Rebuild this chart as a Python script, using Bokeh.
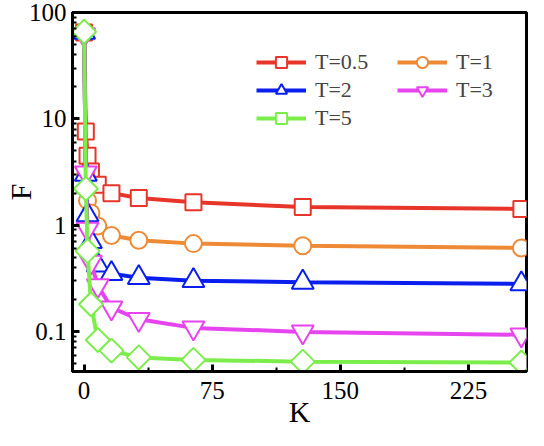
import numpy as np
from bokeh.plotting import figure
from bokeh.models import Range1d, FixedTicker, Legend, LegendItem
from bokeh.embed import file_html
from bokeh.resources import INLINE

# ---- data ----
K = [0, 1, 2, 4, 8, 16, 32, 64, 128, 256]
F_T05 = [65, 7.6, 4.5, 3.2, 2.4, 2.0, 1.8, 1.64, 1.48, 1.42]
F_T1 = [65, 3.0, 1.7, 1.3, 0.98, 0.80, 0.72, 0.67, 0.64, 0.61]
F_T2 = [65, 3.0, 1.25, 0.70, 0.42, 0.35, 0.32, 0.30, 0.29, 0.28]
F_T3 = [62, 3.1, 0.92, 0.45, 0.27, 0.167, 0.13, 0.108, 0.099, 0.093]
F_T5 = [66, 2.2, 0.57, 0.18, 0.083, 0.066, 0.057, 0.054, 0.052, 0.051]
series_labels = ["T=0.5", "T=1", "T=2", "T=3", "T=5"]

x_ticks = [0, 75, 150, 225]
x_minor_ticks = [37.5, 112.5, 187.5]
y_ticks = [0.1, 1, 10, 100]
y_tick_labels = ["0.1", "1", "10", "100"]
x_title = "K"
y_title = "F"

FONT = "'Liberation Serif', 'Times New Roman', serif"

p = figure(width=528, height=430, y_axis_type="log",
           x_range=Range1d(-6.8, 259), y_range=Range1d(0.042, 100),
           output_backend="svg", toolbar_location=None,
           min_border_left=66, min_border_right=2,
           min_border_top=12, min_border_bottom=56)
p.grid.visible = False
p.background_fill_color = "white"
p.border_fill_color = "white"
p.outline_line_color = "black"
p.outline_line_width = 3

styles = [
    (F_T05, "#E8352A", dict(marker="square", size=16, angle=0.0)),
    (F_T1, "#EE8A35", dict(marker="circle", size=17, angle=0.0)),
    (F_T2, "#0A1EEE", dict(marker="triangle", size=22, angle=0.0)),
    (F_T3, "#E644EE", dict(marker="inverted_triangle", size=22, angle=0.0)),
    (F_T5, "#7CEE4C", dict(marker="square", size=17, angle=np.pi / 4)),
]

items = []
for (vals, col, mk), lab in zip(styles, series_labels):
    lr = p.line(K, vals, line_color=col, line_width=4)
    sr = p.scatter(K, vals, line_color=col, fill_color="white",
                   line_width=2, **mk)
    items.append(LegendItem(label=lab, renderers=[lr, sr]))

legend = Legend(items=items, location=(184, 239), orientation="horizontal",
                ncols=2, glyph_width=50, glyph_height=28, label_standoff=9,
                label_width=82, spacing=0, padding=0, margin=0,
                label_text_font=FONT, label_text_font_size="22px",
                border_line_color=None, background_fill_alpha=0)
p.add_layout(legend)

for ax in (p.xaxis[0], p.yaxis[0]):
    ax.axis_line_width = 3
    ax.major_tick_in = 7
    ax.major_tick_out = 0
    ax.minor_tick_in = 4
    ax.minor_tick_out = 0
    ax.major_tick_line_width = 3
    ax.minor_tick_line_width = 2
    ax.major_label_text_font = FONT
    ax.major_label_text_font_size = "25px"
    ax.major_label_text_color = "black"
    ax.axis_label_text_font = FONT
    ax.axis_label_text_font_size = "30px"
    ax.axis_label_text_font_style = "normal"
    ax.axis_label_text_color = "black"

p.xaxis.axis_label = x_title
p.yaxis.axis_label = y_title
p.xaxis.major_label_standoff = 10
p.yaxis.major_label_standoff = 6
p.xaxis.axis_label_standoff = -7
p.yaxis.axis_label_standoff = -11

p.xaxis.ticker = FixedTicker(ticks=x_ticks, minor_ticks=x_minor_ticks)
y_minor = [m * 10.0 ** e for e in (-2, -1, 0, 1) for m in range(2, 10)]
p.yaxis.ticker = FixedTicker(ticks=y_ticks, minor_ticks=y_minor)
p.yaxis.major_label_overrides = dict(zip(y_ticks, y_tick_labels))

open("out.html", "w").write(file_html(p, INLINE))
